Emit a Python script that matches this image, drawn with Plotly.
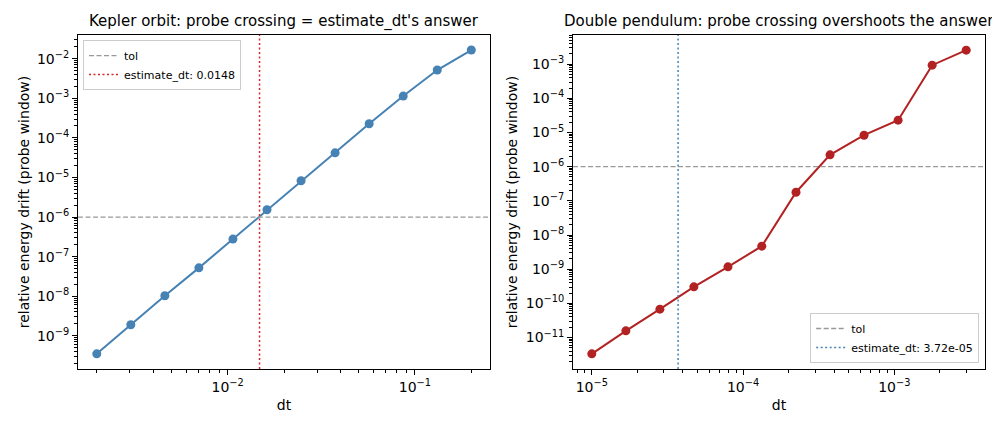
import plotly.graph_objects as go

# Kepler orbit (left panel)
kepler_dt = [0.002, 0.00304, 0.00462, 0.00702, 0.01067, 0.01622,
             0.02466, 0.03748, 0.05697, 0.0866, 0.1316, 0.2]
kepler_drift = [3.5e-10, 1.9e-9, 1.03e-8, 5.2e-8, 2.78e-7, 1.53e-6,
                8.26e-6, 4.2e-5, 2.28e-4, 1.14e-3, 5.19e-3, 1.66e-2]
kepler_est = 0.0148

# Double pendulum (right panel)
pend_dt = [1e-5, 1.68e-5, 2.82e-5, 4.73e-5, 7.95e-5, 1.33e-4,
           2.24e-4, 3.76e-4, 6.31e-4, 1.06e-3, 1.78e-3, 2.99e-3]
pend_drift = [3.33e-12, 1.57e-11, 6.75e-11, 3.04e-10, 1.17e-9, 4.71e-9,
              1.79e-7, 2.22e-6, 8.35e-6, 2.30e-5, 9.35e-4, 2.57e-3]
pend_est = 3.72e-05

tol = 1e-6

kepler_xticks = [1e-2, 1e-1]
kepler_xlabels = ["10<sup>−2</sup>", "10<sup>−1</sup>"]
kepler_yticks = [1e-9, 1e-8, 1e-7, 1e-6, 1e-5, 1e-4, 1e-3, 1e-2]
kepler_ylabels = ["10<sup>−9</sup>", "10<sup>−8</sup>", "10<sup>−7</sup>", "10<sup>−6</sup>",
                  "10<sup>−5</sup>", "10<sup>−4</sup>", "10<sup>−3</sup>", "10<sup>−2</sup>"]
pend_xticks = [1e-5, 1e-4, 1e-3]
pend_xlabels = ["10<sup>−5</sup>", "10<sup>−4</sup>", "10<sup>−3</sup>"]
pend_yticks = [1e-11, 1e-10, 1e-9, 1e-8, 1e-7, 1e-6, 1e-5, 1e-4, 1e-3]
pend_ylabels = ["10<sup>−11</sup>", "10<sup>−10</sup>", "10<sup>−9</sup>", "10<sup>−8</sup>",
                "10<sup>−7</sup>", "10<sup>−6</sup>", "10<sup>−5</sup>", "10<sup>−4</sup>",
                "10<sup>−3</sup>"]


def minor_ticks(lo, hi):
    # 2..9 x 10^e between decades lo and hi
    return [m * 10.0 ** e for e in range(lo, hi) for m in range(2, 10)]


font = "DejaVu Sans"

fig = go.Figure()
fig.add_trace(go.Scatter(x=kepler_dt, y=kepler_drift, mode="lines+markers",
                         line=dict(color="#4682b4", width=2),
                         marker=dict(color="#4682b4", size=9),
                         showlegend=False, xaxis="x", yaxis="y"))
fig.add_trace(go.Scatter(x=pend_dt, y=pend_drift, mode="lines+markers",
                         line=dict(color="#b22222", width=2),
                         marker=dict(color="#b22222", size=9),
                         showlegend=False, xaxis="x2", yaxis="y2"))

# tolerance and estimate lines, with legend entries
for xr, yr, leg, est, col, label in [
        ("x", "y", "legend", kepler_est, "#d62728", "estimate_dt: 0.0148"),
        ("x2", "y2", "legend2", pend_est, "#4682b4", "estimate_dt: 3.72e-05")]:
    fig.add_shape(type="line", xref=xr + " domain", yref=yr, x0=0, x1=1, y0=tol, y1=tol,
                  line=dict(color="#999999", width=1.3, dash="5px,2.5px"),
                  showlegend=True, name="tol", legend=leg)
    fig.add_shape(type="line", xref=xr, yref=yr + " domain", x0=est, x1=est, y0=0, y1=1,
                  line=dict(color=col, width=1.5, dash="2px,2.5px"),
                  showlegend=True, name=label, legend=leg)

axis_common = dict(type="log", showline=True, linecolor="black", linewidth=1, mirror=True,
                   ticks="outside", ticklen=5, tickcolor="black", showgrid=False, zeroline=False,
                   tickfont=dict(family=font, size=14, color="black"))
minor_common = dict(ticks="outside", ticklen=3, tickcolor="black", showgrid=False)

# page is drawn with an 8px body margin, so the figure is 8px smaller
W, H = 992, 422

fig.update_layout(
    width=W, height=H, margin=dict(l=0, r=0, t=0, b=0),
    paper_bgcolor="white", plot_bgcolor="white",
    font=dict(family=font, size=13, color="black"),
    xaxis=dict(axis_common, domain=[0.0706, 0.4859], range=[-2.799, -0.599],
               tickvals=kepler_xticks, ticktext=kepler_xlabels,
               minor=dict(minor_common, tickvals=minor_ticks(-3, 0)),
               title=dict(text="dt", font=dict(size=14), standoff=6), anchor="y"),
    yaxis=dict(axis_common, domain=[0.1445, 0.936], range=[-9.84, -1.40],
               tickvals=kepler_yticks, ticktext=kepler_ylabels,
               minor=dict(minor_common, tickvals=minor_ticks(-10, -1)),
               title=dict(text="relative energy drift (probe window)", font=dict(size=14), standoff=4),
               anchor="x"),
    xaxis2=dict(axis_common, domain=[0.5696, 0.9849], range=[-5.124, -2.40],
                tickvals=pend_xticks, ticktext=pend_xlabels,
                minor=dict(minor_common, tickvals=minor_ticks(-6, -2)),
                title=dict(text="dt", font=dict(size=14), standoff=6), anchor="y2"),
    yaxis2=dict(axis_common, domain=[0.1445, 0.936], range=[-11.922, -2.146],
                tickvals=pend_yticks, ticktext=pend_ylabels,
                minor=dict(minor_common, tickvals=minor_ticks(-12, -2)),
                title=dict(text="relative energy drift (probe window)", font=dict(size=14), standoff=4),
                anchor="x2"),
    legend=dict(x=0.0756, y=0.924, xanchor="left", yanchor="top",
                bgcolor="rgba(255,255,255,0.8)", bordercolor="#cccccc", borderwidth=1,
                font=dict(size=11)),
    legend2=dict(x=0.979, y=0.1588, xanchor="right", yanchor="bottom",
                 bgcolor="rgba(255,255,255,0.8)", bordercolor="#cccccc", borderwidth=1,
                 font=dict(size=11)),
    annotations=[
        dict(text="Kepler orbit: probe crossing = estimate_dt's answer", xref="paper", yref="paper",
             x=0.2782, y=0.969, xanchor="center", yanchor="middle", showarrow=False,
             font=dict(size=15)),
        dict(text="Double pendulum: probe crossing overshoots the answer", xref="paper", yref="paper",
             x=0.7777, y=0.969, xanchor="center", yanchor="middle", showarrow=False,
             font=dict(size=15)),
    ],
)

fig.write_html("out.html")
